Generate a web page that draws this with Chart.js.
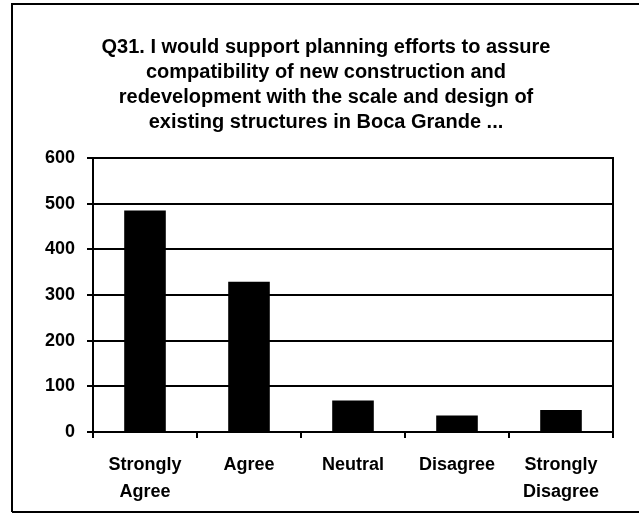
<!DOCTYPE html>
<html>
<head>
<meta charset="utf-8">
<script src="https://cdn.jsdelivr.net/npm/chart.js@4.4.1/dist/chart.umd.min.js"></script>
<style>
  html, body { margin: 0; padding: 0; background: #ffffff; }
  #wrap { width: 639px; height: 516px; position: relative; }
</style>
</head>
<body>
<div id="wrap"><canvas id="c" width="639" height="516"></canvas></div>
<script>
const titleLines = [
  "Q31. I would support planning efforts to assure",
  "compatibility of new construction and",
  "redevelopment with the scale and design of",
  "existing structures in Boca Grande ..."
];
const categories = [["Strongly", "Agree"], "Agree", "Neutral", "Disagree", ["Strongly", "Disagree"]];
const responses = [485, 329, 69, 36, 48];
const yTicks = [0, 100, 200, 300, 400, 500, 600];

const FONT = "'Liberation Sans', Arial, sans-serif";

const frame = {
  id: 'frame',
  beforeDraw(chart) {
    const ctx = chart.ctx;
    ctx.save();
    ctx.fillStyle = '#ffffff';
    ctx.fillRect(0, 0, chart.width, chart.height);
    ctx.strokeStyle = '#000000';
    ctx.lineWidth = 2;
    ctx.beginPath();
    ctx.moveTo(12, 512); ctx.lineTo(12, 4); ctx.lineTo(639, 4);
    ctx.moveTo(12, 512); ctx.lineTo(639, 512);
    ctx.stroke();
    // title
    ctx.fillStyle = '#000000';
    ctx.font = "bold 20px " + FONT;
    ctx.textAlign = 'center';
    ctx.textBaseline = 'middle';
    titleLines.forEach((t, i) => ctx.fillText(t, 326, 47 + i * 25));
    ctx.restore();
  },
  afterDatasetsDraw(chart) {
    const a = chart.chartArea, ctx = chart.ctx;
    ctx.save();
    ctx.strokeStyle = '#000000';
    ctx.lineWidth = 2;
    ctx.strokeRect(a.left, a.top, a.right - a.left, a.bottom - a.top);
    ctx.restore();
  }
};

new Chart(document.getElementById('c'), {
  type: 'bar',
  data: {
    labels: categories,
    datasets: [{
      data: responses,
      backgroundColor: '#000000',
      borderWidth: 0,
      barPercentage: 0.4,
      categoryPercentage: 1.0
    }]
  },
  options: {
    responsive: false,
    animation: false,
    devicePixelRatio: 1,
    layout: { padding: { top: 158, right: 26, bottom: 0, left: 0 } },
    plugins: { legend: { display: false }, title: { display: false }, tooltip: { enabled: false } },
    scales: {
      x: {
        grid: { display: true, drawOnChartArea: false, offset: true, color: '#000000', lineWidth: 2, tickLength: 6 },
        border: { display: true, color: '#000000', width: 2 },
        ticks: { color: '#000000', font: { family: FONT, size: 18, weight: 'bold', lineHeight: 1.5 }, padding: 14, maxRotation: 0, autoSkip: false },
        afterFit(s) { s.height = 84; }
      },
      y: {
        min: 0, max: 600,
        afterBuildTicks(s) { s.ticks = yTicks.map(v => ({ value: v })); },
        grid: { color: '#000000', lineWidth: 2, tickLength: 6 },
        border: { display: true, color: '#000000', width: 2 },
        ticks: { color: '#000000', font: { family: FONT, size: 18, weight: 'bold' }, padding: 12 },
        afterFit(s) { s.width = 93; }
      }
    }
  },
  plugins: [frame]
});
</script>
</body>
</html>
